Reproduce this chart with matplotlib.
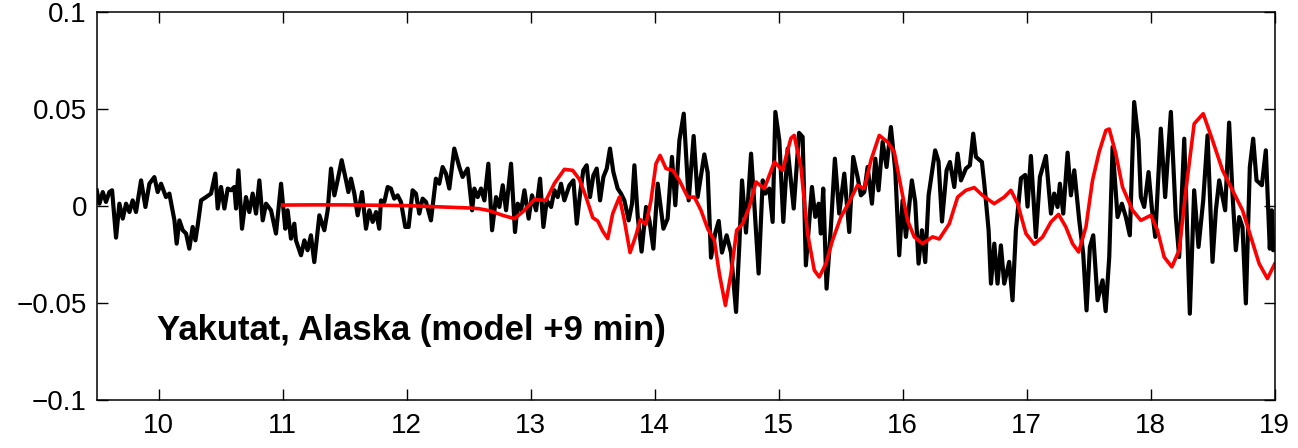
import matplotlib
matplotlib.use("Agg")
import matplotlib.pyplot as plt

plt.rcParams['font.family'] = ['Liberation Sans', 'DejaVu Sans']

# observed tide gauge (hours, metres)
obs_t = [9.500, 9.522, 9.549, 9.575, 9.602, 9.624, 9.656, 9.683, 9.710, 9.737,
         9.764, 9.790, 9.817, 9.858, 9.893, 9.925, 9.965, 9.992, 10.019, 10.059,
         10.086, 10.127, 10.145, 10.167, 10.194, 10.221, 10.247, 10.274, 10.296, 10.315,
         10.342, 10.382, 10.422, 10.457, 10.476, 10.503, 10.530, 10.557, 10.583, 10.610,
         10.624, 10.643, 10.672, 10.704, 10.731, 10.758, 10.785, 10.812, 10.839, 10.866,
         10.906, 10.946, 10.987, 11.021, 11.040, 11.067, 11.094, 11.107, 11.148, 11.175,
         11.201, 11.228, 11.255, 11.296, 11.336, 11.363, 11.390, 11.417, 11.443, 11.476,
         11.511, 11.530, 11.551, 11.578, 11.605, 11.640, 11.672, 11.699, 11.726, 11.753,
         11.779, 11.793, 11.820, 11.847, 11.873, 11.900, 11.927, 11.954, 11.989, 12.016,
         12.048, 12.075, 12.102, 12.129, 12.156, 12.196, 12.236, 12.263, 12.290, 12.317,
         12.344, 12.384, 12.425, 12.451, 12.492, 12.528, 12.546, 12.573, 12.600, 12.627,
         12.659, 12.689, 12.721, 12.748, 12.775, 12.802, 12.842, 12.874, 12.896, 12.923,
         12.950, 12.984, 13.011, 13.044, 13.076, 13.103, 13.130, 13.165, 13.192, 13.218,
         13.245, 13.272, 13.313, 13.345, 13.372, 13.399, 13.425, 13.452, 13.479, 13.506,
         13.533, 13.560, 13.587, 13.614, 13.640, 13.667, 13.702, 13.729, 13.756, 13.791,
         13.818, 13.837, 13.864, 13.895, 13.931, 13.958, 13.990, 14.025, 14.071, 14.105,
         14.140, 14.167, 14.200, 14.235, 14.275, 14.315, 14.347, 14.401, 14.428, 14.455,
         14.490, 14.517, 14.543, 14.581, 14.616, 14.657, 14.683, 14.705, 14.737, 14.778,
         14.804, 14.839, 14.872, 14.893, 14.925, 14.952, 14.974, 15.006, 15.038, 15.073,
         15.122, 15.165, 15.194, 15.220, 15.269, 15.296, 15.323, 15.341, 15.360, 15.387,
         15.422, 15.454, 15.489, 15.530, 15.570, 15.602, 15.637, 15.664, 15.691, 15.718,
         15.753, 15.780, 15.806, 15.839, 15.871, 15.906, 15.941, 15.973, 16.000, 16.027,
         16.075, 16.102, 16.129, 16.156, 16.183, 16.210, 16.263, 16.290, 16.318, 16.355,
         16.382, 16.417, 16.444, 16.471, 16.511, 16.543, 16.570, 16.592, 16.640, 16.659,
         16.672, 16.694, 16.713, 16.740, 16.766, 16.793, 16.820, 16.860, 16.887, 16.914,
         16.955, 16.989, 17.008, 17.035, 17.075, 17.108, 17.156, 17.197, 17.223, 17.250,
         17.269, 17.296, 17.331, 17.358, 17.385, 17.425, 17.457, 17.484, 17.511, 17.538,
         17.573, 17.613, 17.638, 17.667, 17.694, 17.734, 17.769, 17.801, 17.833, 17.868,
         17.903, 17.922, 17.949, 17.984, 18.011, 18.038, 18.083, 18.118, 18.164, 18.204,
         18.231, 18.272, 18.317, 18.352, 18.387, 18.425, 18.460, 18.500, 18.527, 18.554,
         18.602, 18.634, 18.661, 18.688, 18.715, 18.742, 18.769, 18.801, 18.828, 18.855,
         18.898, 18.930, 18.962, 18.978, 18.989, 19.000]
obs_h = [0.0081, 0.0012, 0.0072, 0.0021, 0.0072, 0.0081, -0.0163, 0.0012, -0.0065, 0.0012,
         -0.0031, 0.0029, -0.0031, 0.0132, -0.0005, 0.0115, 0.0149, 0.0072, 0.0115, 0.0046,
         0.0064, -0.0074, -0.0194, -0.0074, -0.0125, -0.0142, -0.0220, -0.0108, -0.0177, -0.0099,
         0.0029, 0.0046, 0.0064, 0.0167, -0.0013, 0.0098, -0.0013, 0.0090, 0.0081, 0.0098,
         -0.0013, 0.0184, -0.0117, 0.0046, -0.0031, 0.0064, -0.0039, 0.0132, -0.0074, 0.0012,
         -0.0022, -0.0142, 0.0115, -0.0117, -0.0022, -0.0168, -0.0091, -0.0177, -0.0254, -0.0177,
         -0.0228, -0.0151, -0.0289, -0.0048, -0.0125, -0.0022, 0.0193, 0.0055, 0.0132, 0.0236,
         0.0132, 0.0072, 0.0141, 0.0064, -0.0048, 0.0072, -0.0117, -0.0022, -0.0082, -0.0031,
         -0.0117, 0.0029, 0.0021, 0.0098, 0.0090, 0.0038, 0.0055, 0.0021, -0.0108, -0.0108,
         0.0081, 0.0064, -0.0039, 0.0038, 0.0021, -0.0074, 0.0141, 0.0115, 0.0201, 0.0167,
         0.0090, 0.0296, 0.0201, 0.0150, 0.0193, -0.0022, 0.0090, 0.0046, 0.0090, 0.0029,
         0.0218, -0.0125, 0.0046, -0.0005, 0.0107, -0.0022, 0.0218, -0.0134, 0.0012, -0.0022,
         0.0081, -0.0065, 0.0055, -0.0022, 0.0141, -0.0108, 0.0029, -0.0005, 0.0081, 0.0046,
         0.0115, 0.0029, 0.0107, 0.0132, -0.0091, 0.0064, 0.0184, 0.0210, 0.0046, 0.0158,
         0.0193, 0.0029, 0.0150, 0.0193, 0.0296, 0.0176, 0.0090, 0.0064, 0.0029, -0.0074,
         0.0012, 0.0210, -0.0056, -0.0235, -0.0005, -0.0074, -0.0220, 0.0115, -0.0117, -0.0065,
         0.0253, 0.0004, 0.0339, 0.0476, 0.0029, 0.0361, 0.0046, 0.0266, 0.0172, -0.0266,
         -0.0137, -0.0077, -0.0240, -0.0151, -0.0240, -0.0546, -0.0206, 0.0132, -0.0137, 0.0270,
         0.0012, -0.0348, 0.0132, 0.0064, 0.0090, -0.0082, 0.0485, 0.0339, -0.0082, 0.0296,
         -0.0013, 0.0377, 0.0356, -0.0306, 0.0098, -0.0056, 0.0012, -0.0142, 0.0090, -0.0426,
         -0.0108, 0.0244, -0.0039, 0.0167, -0.0134, 0.0253, 0.0150, 0.0055, 0.0072, 0.0201,
         0.0012, 0.0244, 0.0081, 0.0330, 0.0201, 0.0407, 0.0184, -0.0254, 0.0029, -0.0159,
         0.0132, 0.0021, -0.0297, -0.0125, -0.0289, 0.0055, 0.0287, 0.0230, -0.0080, 0.0184,
         0.0227, 0.0098, 0.0270, 0.0132, 0.0193, 0.0210, 0.0373, 0.0253, 0.0227, 0.0115,
         0.0029, -0.0125, -0.0400, -0.0194, -0.0400, -0.0203, -0.0400, -0.0288, -0.0486, -0.0125,
         0.0143, 0.0160, -0.0003, 0.0258, -0.0160, 0.0150, 0.0258, -0.0039, 0.0064, -0.0005,
         0.0115, -0.0039, 0.0275, 0.0055, 0.0184, -0.0074, -0.0246, -0.0538, -0.0211, -0.0151,
         -0.0486, -0.0383, -0.0542, -0.0263, 0.0304, -0.0057, 0.0012, -0.0057, -0.0151, 0.0536,
         0.0339, 0.0046, -0.0005, 0.0175, -0.0013, -0.0159, 0.0399, 0.0046, 0.0485, -0.0057,
         -0.0263, 0.0347, -0.0555, 0.0081, -0.0211, 0.0029, 0.0364, -0.0288, -0.0022, 0.0132,
         -0.0022, 0.0430, 0.0064, -0.0228, -0.0057, -0.0108, -0.0502, 0.0201, 0.0347, 0.0132,
         0.0107, 0.0287, -0.0220, -0.0022, -0.0228, -0.0200]

# model (shifted +9 min)
mod_t = [11.00, 11.25, 11.50, 11.75, 12.00, 12.25, 12.50, 12.586, 12.667, 12.775,
         12.869, 12.936, 13.030, 13.124, 13.192, 13.272, 13.339, 13.393, 13.447, 13.501,
         13.541, 13.581, 13.622, 13.662, 13.716, 13.756, 13.802, 13.850, 13.885, 13.930,
         13.971, 14.011, 14.044, 14.092, 14.146, 14.200, 14.267, 14.321, 14.374, 14.428,
         14.482, 14.522, 14.571, 14.616, 14.662, 14.710, 14.764, 14.818, 14.885, 14.966,
         15.033, 15.070, 15.100, 15.126, 15.180, 15.234, 15.288, 15.328, 15.382, 15.435,
         15.503, 15.570, 15.637, 15.691, 15.745, 15.812, 15.879, 15.933, 15.987, 16.040,
         16.094, 16.161, 16.242, 16.296, 16.377, 16.444, 16.511, 16.578, 16.645, 16.739,
         16.820, 16.874, 16.928, 16.995, 17.062, 17.129, 17.197, 17.258, 17.317, 17.371,
         17.420, 17.479, 17.532, 17.586, 17.640, 17.667, 17.720, 17.774, 17.855, 17.922,
         18.003, 18.056, 18.110, 18.172, 18.231, 18.285, 18.352, 18.425, 18.500, 18.581,
         18.661, 18.742, 18.809, 18.876, 18.943, 18.989, 19.000]
mod_h = [0.0005, 0.0006, 0.0006, 0.0004, 0.0002, -0.0004, -0.0010, -0.0014, -0.0024, -0.0048,
         -0.0065, -0.0030, 0.0033, 0.0029, 0.0117, 0.0189, 0.0184, 0.0138, 0.0046, -0.0060,
         -0.0077, -0.0129, -0.0168, -0.0039, 0.0046, -0.0074, -0.0240, -0.0150, -0.0070, -0.0095,
         0.0029, 0.0218, 0.0261, 0.0193, 0.0184, 0.0132, 0.0046, 0.0046, -0.0022, -0.0117,
         -0.0177, -0.0348, -0.0512, -0.0348, -0.0125, -0.0091, -0.0005, 0.0124, 0.0090, 0.0227,
         0.0184, 0.0280, 0.0350, 0.0364, 0.0201, -0.0142, -0.0331, -0.0366, -0.0297, -0.0177,
         -0.0056, 0.0021, 0.0107, 0.0090, 0.0236, 0.0364, 0.0330, 0.0279, 0.0098, -0.0074,
         -0.0159, -0.0194, -0.0159, -0.0170, -0.0091, 0.0046, 0.0081, 0.0095, 0.0055, 0.0012,
         0.0046, 0.0081, 0.0012, -0.0142, -0.0197, -0.0160, -0.0082, -0.0043, -0.0108, -0.0194,
         -0.0237, -0.0108, 0.0132, 0.0280, 0.0390, 0.0397, 0.0270, 0.0098, -0.0022, -0.0074,
         -0.0048, -0.0125, -0.0263, -0.0314, -0.0228, 0.0081, 0.0424, 0.0476, 0.0339, 0.0184,
         0.0081, -0.0022, -0.0159, -0.0297, -0.0374, -0.0314, -0.0300]

x_ticks = [10, 11, 12, 13, 14, 15, 16, 17, 18, 19]
y_ticks = [-0.1, -0.05, 0, 0.05, 0.1]
y_labels = ['\u22120.1', '\u22120.05', '0', '0.05', '0.1']

fig = plt.figure(figsize=(12.98, 4.48), dpi=100)
ax = fig.add_axes([0.0745, 0.1071, 0.9074, 0.8661])

ax.plot(obs_t, obs_h, color='black', lw=3.0, solid_joinstyle='round')
ax.plot(mod_t, mod_h, color='#ff0000', lw=2.6, solid_joinstyle='round')

ax.set_xlim(9.5, 19)
ax.set_ylim(-0.1, 0.1)
ax.set_xticks(x_ticks)
ax.set_yticks(y_ticks)
ax.set_yticklabels(y_labels)
ax.tick_params(direction='in', length=8, width=1, labelsize=20,
               top=True, right=True)
ax.tick_params(axis='x', pad=9)
ax.tick_params(axis='y', pad=7)
for s in ax.spines.values():
    s.set_linewidth(1.1)

ax.text(9.99, -0.069, 'Yakutat, Alaska (model +9 min)', fontsize=25,
        fontweight='bold', ha='left', va='baseline')

fig.savefig('out.png', dpi=100)
